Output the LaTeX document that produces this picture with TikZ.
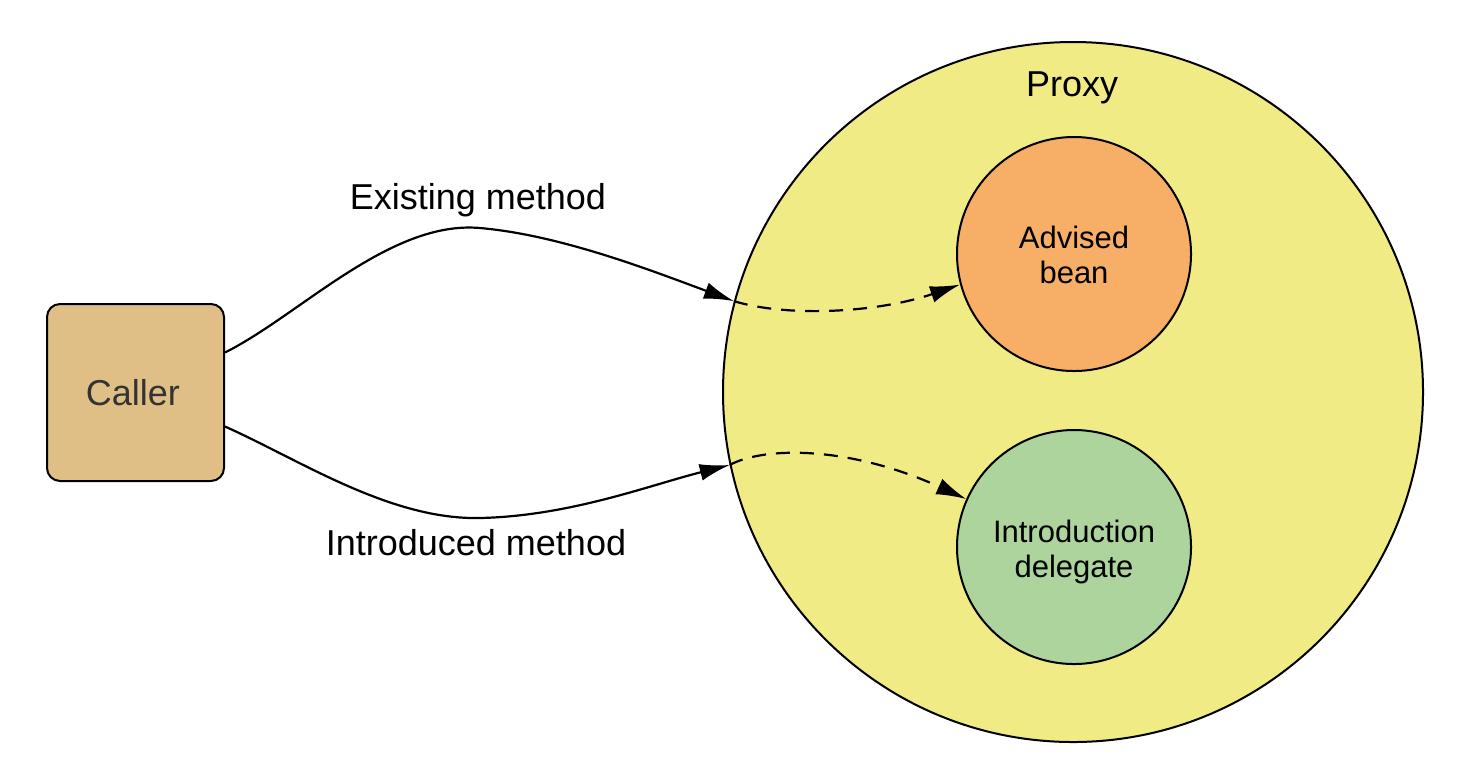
\documentclass[tikz,border=0pt]{standalone}
\usepackage{fontspec}
\setmainfont{Liberation Sans}
\usetikzlibrary{arrows.meta}
\definecolor{proxyfill}{RGB}{240,235,133}
\definecolor{advfill}{RGB}{247,174,102}
\definecolor{delfill}{RGB}{172,212,156}
\definecolor{callerfill}{RGB}{223,191,133}
\definecolor{callertext}{RGB}{51,51,51}
\tikzset{
  circ/.style={circle, draw=black, line width=1pt, inner sep=0pt},
  lbl/.style={font=\fontsize{18}{21}\selectfont, anchor=base, inner sep=0pt},
  intxt/.style={font=\fontsize{15.5}{17.5}\selectfont, align=center, inner sep=0pt},
  conn/.style={line width=1.1pt, -{Latex[length=15pt,width=8.5pt]}},
  dconn/.style={conn, dash pattern=on 7pt off 5pt},
}
\begin{document}
\begin{tikzpicture}[x=0.5pt,y=-0.5pt]
\useasboundingbox (0,0) rectangle (1470,768);
\node[circ, fill=proxyfill, minimum size=350pt] (proxy) at (1073,392) {};
\node[lbl] (proxylbl) at (1072,96) {Proxy};
\node[circ, fill=advfill, minimum size=117pt] (adv) at (1074,254) {};
\node[intxt] (advtxt) at (1074,255) {Advised\\bean};
\node[circ, fill=delfill, minimum size=117pt] (del) at (1074,547) {};
\node[intxt] (deltxt) at (1074,552) {Introduction\\delegate};
\node[draw=black, line width=1pt, fill=callerfill, rounded corners=6.5pt, minimum width=88.5pt, minimum height=88.5pt, inner sep=0pt] (caller) at (135.5,392.5) {};
\node[lbl, text=callertext] (callerlbl) at (133,405) {Caller};
\node[lbl] (existlbl) at (478,209) {Existing method};
\node[lbl] (introlbl) at (476,555) {Introduced method};
% existing method
\draw[conn] ([yshift=20pt]caller.east) .. controls (300,315) and (390,220) .. (480,228)
  .. controls (560,235) and (650,270) .. (proxy.165);
\draw[dconn] (proxy.165) .. controls (790,318) and (880,312) .. (adv.195);
% introduced method
\draw[conn] ([yshift=-17pt]caller.east) .. controls (300,460) and (390,520) .. (480,518)
  .. controls (570,516) and (650,485) .. (proxy.192);
\draw[dconn] (proxy.192) .. controls (765,446) and (850,446) .. (del.156);
\end{tikzpicture}
\end{document}
